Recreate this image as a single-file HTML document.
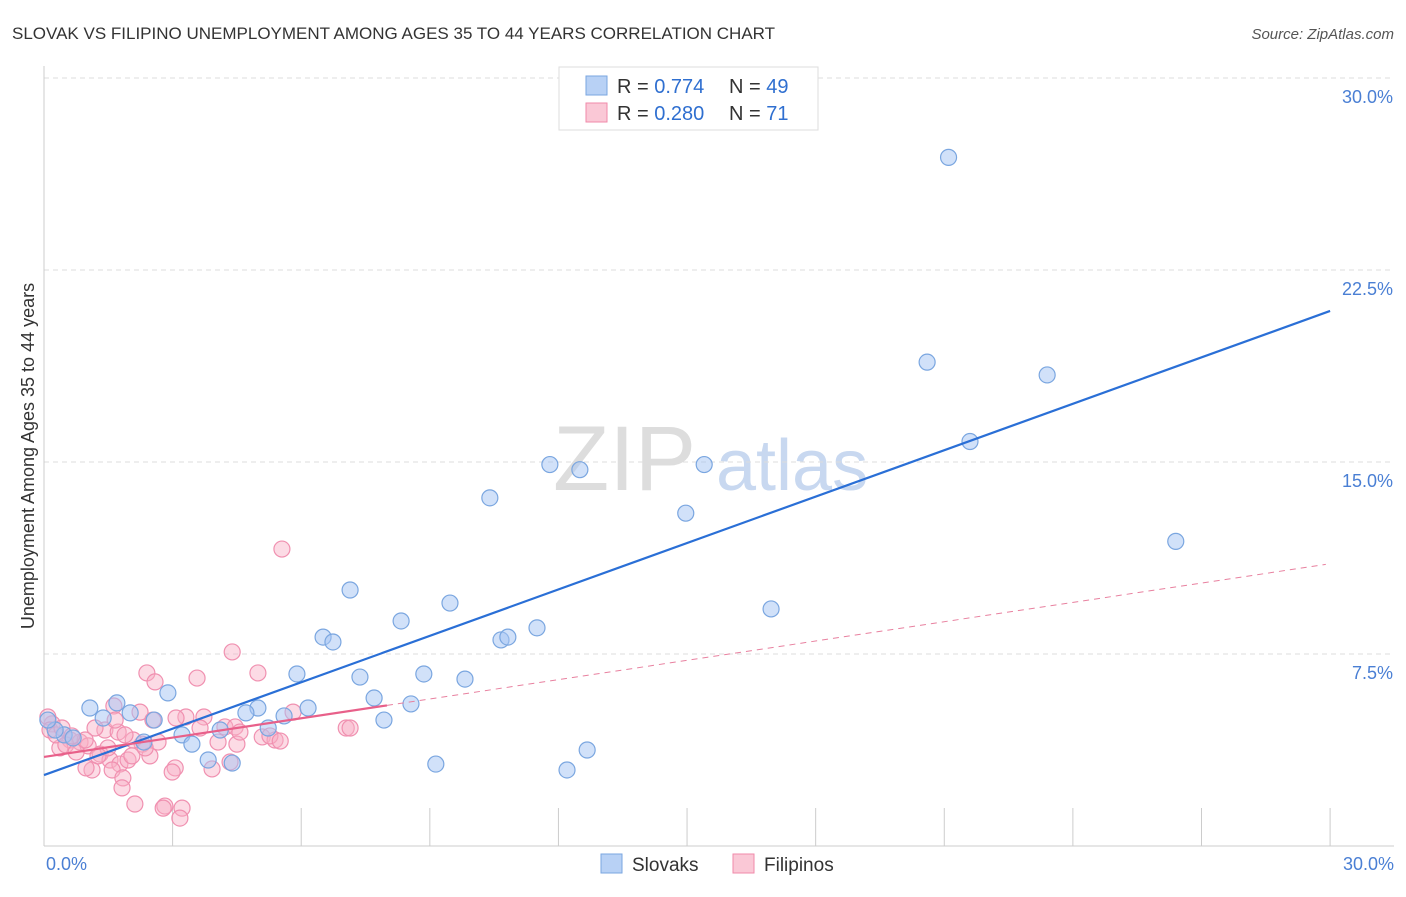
<!DOCTYPE html>
<html><head><meta charset="utf-8"><style>
body{margin:0;background:#fff;font-family:"Liberation Sans",sans-serif;}
svg text{font-family:"Liberation Sans",sans-serif;}
</style></head><body>
<svg id="chart" width="1406" height="892" xmlns="http://www.w3.org/2000/svg">
<text x="12" y="39" font-size="17" fill="#333">SLOVAK VS FILIPINO UNEMPLOYMENT AMONG AGES 35 TO 44 YEARS CORRELATION CHART</text>
<text x="1394" y="39" font-size="15" fill="#555" font-style="italic" text-anchor="end">Source: ZipAtlas.com</text>
<g>
<text x="553" y="490" font-size="92" fill="#ddd" font-family="Liberation Serif,serif">ZIP</text>
<text x="716" y="490" font-size="72" fill="#c8d8f0">atlas</text>
</g>
<g id="grid"></g>
<g id="ticks"></g>
<line x1="44" y1="66" x2="44" y2="846" stroke="#ccc"/>
<line x1="44" y1="846" x2="1394" y2="846" stroke="#ccc"/>
<g id="ylabels"></g>
<text x="46" y="870" font-size="18" fill="#4a7fd4">0.0%</text>
<text x="1394" y="870" font-size="18" fill="#4a7fd4" text-anchor="end">30.0%</text>
<text transform="translate(34,456) rotate(-90)" font-size="18" fill="#333" text-anchor="middle">Unemployment Among Ages 35 to 44 years</text>
<g id="pink"></g>
<g id="blue"></g>
<g id="lines"></g>
<g>
<rect x="559" y="67" width="259" height="63" fill="#fff" stroke="#ddd"/>
<rect x="586" y="76" width="21" height="19" fill="#b8d1f5" stroke="#7aa6e0"/>
<rect x="586" y="103" width="21" height="19" fill="#fac8d6" stroke="#f08aaa"/>
<text x="617" y="93" font-size="20" fill="#333">R = <tspan fill="#2f6fd0"> 0.774</tspan><tspan x="729">N = </tspan><tspan fill="#2f6fd0">49</tspan></text>
<text x="617" y="120" font-size="20" fill="#333">R = <tspan fill="#2f6fd0">0.280</tspan><tspan x="729">N = </tspan><tspan fill="#2f6fd0"> 71</tspan></text>
</g>
<g>
<rect x="601" y="854" width="21" height="19" fill="#b8d1f5" stroke="#7aa6e0"/>
<text x="632" y="871" font-size="19" fill="#333">Slovaks</text>
<rect x="733" y="854" width="21" height="19" fill="#fac8d6" stroke="#f08aaa"/>
<text x="764" y="871" font-size="19" fill="#333">Filipinos</text>
</g>
</svg>
<script>
const yTicks=[7.5,15,22.5,30];
const yTickLabels=["7.5%","15.0%","22.5%","30.0%"];
const xTickVals=[3,6,9,12,15,18,21,24,27,30];
const blueX=[21.1,20.6,23.4,21.6,26.4,11.8,12.5,15.4,10.4,14.97,16.96,7.14,9.47,8.33,6.51,6.74,11.5,10.66,10.82,5.9,7.37,8.86,9.82,7.7,8.56,7.93,2.89,1.70,1.07,1.38,2.01,2.57,4.99,4.71,6.16,5.6,4.11,5.23,3.22,3.45,2.33,0.47,0.68,0.26,3.83,4.39,9.14,12.2,12.67,0.09];
const blueY=[26.9,18.9,18.4,15.8,11.9,14.9,14.7,14.9,13.6,13.0,9.26,10.0,9.49,8.79,8.16,7.97,8.52,8.05,8.16,6.72,6.6,6.72,6.52,5.78,5.55,4.92,5.98,5.59,5.39,5.0,5.2,4.92,5.39,5.2,5.39,5.08,4.53,4.61,4.34,3.98,4.06,4.34,4.22,4.53,3.36,3.24,3.2,2.97,3.75,4.92];
const pinkX=[5.55,4.39,2.4,4.99,3.57,2.59,1.63,2.24,3.31,3.73,2.54,3.08,4.22,4.46,7.05,7.14,5.81,5.09,5.39,4.5,4.06,2.66,2.29,2.08,1.42,1.73,1.19,0.61,0.84,1.03,0.37,0.19,0.09,0.14,1.31,1.54,1.77,1.96,1.12,0.98,1.59,2.47,2.05,3.06,2.99,3.92,4.34,1.84,1.82,2.12,2.82,2.78,3.22,3.17,0.28,0.51,0.75,0.96,0.42,0.65,1.49,1.26,2.36,3.64,4.57,5.27,5.51,1.66,1.89];
const pinkY=[11.6,7.58,6.76,6.76,6.56,6.41,5.47,5.23,5.04,5.04,4.92,5.0,4.65,4.65,4.61,4.61,5.23,4.26,4.14,3.98,4.06,4.06,3.98,4.14,4.53,4.45,4.61,4.14,4.06,3.91,3.83,4.77,5.04,4.53,3.59,3.36,3.2,3.36,2.97,3.05,2.97,3.52,3.52,3.05,2.89,3.01,3.28,2.66,2.27,1.64,1.56,1.48,1.48,1.09,4.34,3.95,3.67,4.14,4.61,4.30,3.83,3.52,3.83,4.61,4.45,4.3,4.1,4.92,4.34];
const blueTrend=[2.77,20.9];
const pinkTrend=[3.48,11.0];
const pinkSolidEnd=8.0;
const X=v=>44+v*42.87, Y=v=>846-v*25.6;
const NS="http://www.w3.org/2000/svg";
function mk(tag,attrs,parent){const e=document.createElementNS(NS,tag);for(const k in attrs)e.setAttribute(k,attrs[k]);document.getElementById(parent).appendChild(e);return e;}
yTicks.forEach((t,i)=>{
const g=mk('line',{x1:44,x2:1394,y1:Y(t),y2:Y(t),stroke:'#ddd','stroke-dasharray':'5,4'},'grid');


const l=mk('text',{x:1393,y:Y(t)+25,'font-size':18,fill:'#4a7fd4','text-anchor':'end'},'ylabels');
l.textContent=yTickLabels[i];


});
xTickVals.forEach(t=>{
const k=mk('line',{x1:X(t),x2:X(t),y1:808,y2:846,stroke:'#ccc'},'ticks');


});
pinkX.forEach((x,i)=>{
const c=mk('circle',{cx:X(x),cy:Y(pinkY[i]),r:8,fill:'rgba(248,176,198,0.45)',stroke:'#f090b0','stroke-width':1.2},'pink');


});
blueX.forEach((x,i)=>{
const c=mk('circle',{cx:X(x),cy:Y(blueY[i]),r:8,fill:'rgba(164,196,244,0.5)',stroke:'#7aa6e0','stroke-width':1.2},'blue');


});
const bl=mk('line',{x1:X(0),y1:Y(blueTrend[0]),x2:X(30),y2:Y(blueTrend[1]),stroke:'#2a6fd6','stroke-width':2.2},'lines');


const ps=pinkTrend[0]+(pinkTrend[1]-pinkTrend[0])*pinkSolidEnd/29.9;
const pl=mk('line',{x1:X(0),y1:Y(pinkTrend[0]),x2:X(pinkSolidEnd),y2:Y(ps),stroke:'#e8608a','stroke-width':2.2},'lines');


const pd=mk('line',{x1:X(pinkSolidEnd),y1:Y(ps),x2:X(29.9),y2:Y(pinkTrend[1]),stroke:'#e8809f','stroke-width':1,'stroke-dasharray':'6,5'},'lines');


</script>
</body></html>
